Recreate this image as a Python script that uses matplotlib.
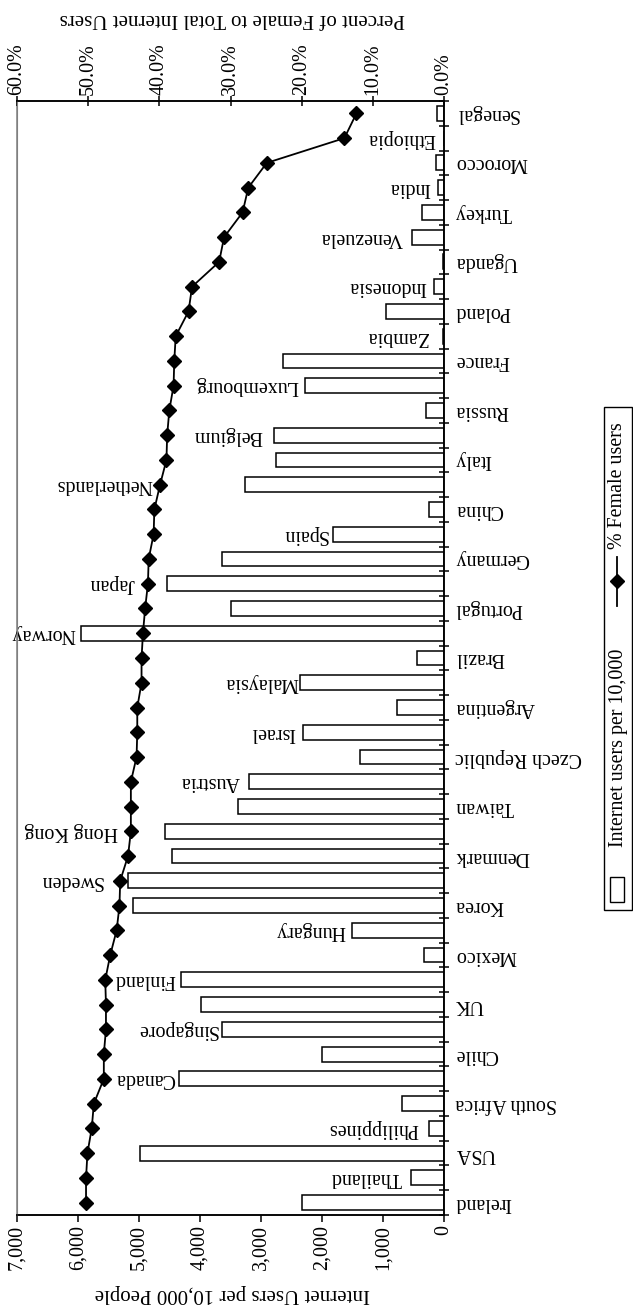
import matplotlib
matplotlib.use('Agg')
import matplotlib.pyplot as plt
import numpy as np
from matplotlib.patches import Rectangle
from matplotlib.lines import Line2D

plt.rcParams['font.family'] = ['Liberation Serif', 'DejaVu Serif']

# Categories listed from the bottom of the chart (Ireland) to the top (Senegal)
countries = ["Ireland", "Thailand", "USA", "Philippines", "South Africa", "Canada",
             "Chile", "Singapore", "UK", "Finland", "Mexico", "Hungary", "Korea",
             "Sweden", "Denmark", "Hong Kong", "Taiwan", "Austria", "Czech Republic",
             "Israel", "Argentina", "Malaysia", "Brazil", "Norway", "Portugal", "Japan",
             "Germany", "Spain", "China", "Netherlands", "Italy", "Belgium", "Russia",
             "Luxembourg", "France", "Zambia", "Poland", "Indonesia", "Uganda",
             "Venezuela", "Turkey", "India", "Morocco", "Ethiopia", "Senegal"]

users_per_10000 = [2328, 541, 4984, 240, 694, 4344,
                   2000, 3644, 3984, 4316, 322, 1508, 5104,
                   5175, 4464, 4574, 3382, 3197, 1377,
                   2311, 765, 2361, 437, 5951, 3497, 4546,
                   3644, 1820, 240, 3262, 2754, 2787, 295,
                   2279, 2644, 15, 956, 164, 11,
                   519, 366, 93, 131, 5, 110]

female_pct = [50.3, 50.3, 50.1, 49.5, 49.2, 47.8,
              47.8, 47.5, 47.5, 47.6, 46.9, 46.0, 45.6,
              45.5, 44.4, 44.0, 44.0, 44.0, 43.2,
              43.1, 43.1, 42.5, 42.5, 42.3, 42.0, 41.6,
              41.5, 40.8, 40.7, 39.9, 39.0, 38.9, 38.6,
              38.0, 37.9, 37.7, 35.9, 35.4, 31.6,
              30.9, 28.3, 27.5, 24.9, 14.0, 12.3]

bar_ticks = [0, 1000, 2000, 3000, 4000, 5000, 6000, 7000]
pct_ticks = [0, 10, 20, 30, 40, 50, 60]

# Layout: where the inner (staggered) category labels sit, in bar-axis units
label_pos = {"Thailand": 689, "Philippines": 426, "Canada": 4410, "Singapore": 3705,
             "Finland": 4410, "Hungary": 1623, "Sweden": 5590, "Hong Kong": 5344,
             "Austria": 3344, "Israel": 2443, "Malaysia": 2393, "Norway": 6049,
             "Japan": 5066, "Spain": 1900, "Netherlands": 4787, "Belgium": 2984,
             "Luxembourg": 2393, "Zambia": 262, "Indonesia": 284, "Venezuela": 672,
             "India": 230, "Ethiopia": 148}

W, H = 633, 1309
fig = plt.figure(figsize=(W / 100, H / 100), dpi=100)

def fx(x):
    return x / W

def fy(y):
    return 1 - y / H

L, R, T, B = 17, 444, 101, 1215
ax = fig.add_axes([fx(L), fy(B), fx(R) - fx(L), fy(T) - fy(B)])

FS = 14.4
FS_TITLE = 15
y = np.arange(len(countries))
ax.barh(y, users_per_10000, height=0.6, color='white', edgecolor='black', linewidth=1.1, zorder=2)
ax.set_xlim(7000, 0)
ax.set_ylim(-0.5, len(countries) - 0.5)

ax.set_xticks(bar_ticks)
ax.set_xticklabels([f"{v:,}" for v in bar_ticks], rotation=90, fontsize=FS)
ax.tick_params(axis='x', direction='out', length=5, width=1.1, pad=2)

ax.yaxis.tick_right()
ax.set_yticks(np.arange(-0.5, len(countries), 1.0))
ax.set_yticklabels([])
ax.tick_params(axis='y', direction='inout', length=7, width=1.1)

for s in ['top', 'right', 'bottom']:
    ax.spines[s].set_linewidth(1.1)
    ax.spines[s].set_color('black')
ax.spines['left'].set_color('#808080')
ax.spines['left'].set_linewidth(1.1)

ax2 = ax.twiny()
ax2.plot(female_pct, y, color='black', linewidth=1.3, marker='D', markersize=7.5,
         markerfacecolor='black', markeredgecolor='black', zorder=5)
ax2.set_xlim(60, 0)
ax2.set_xticks(pct_ticks)
ax2.set_xticklabels([f"{v:.1f}%" for v in pct_ticks], rotation=90, fontsize=FS)
ax2.tick_params(axis='x', direction='inout', length=7, width=1.1, pad=1)
ax2.spines['left'].set_color('#808080')
for s in ['top', 'right', 'bottom']:
    ax2.spines[s].set_linewidth(1.1)

# Category labels
trans_out = ax.get_yaxis_transform()
for i, name in enumerate(countries):
    if name in label_pos:
        ax.text(label_pos[name], i, name, rotation=180, ha='right', va='center',
                fontsize=FS, zorder=3)
    else:
        ax.text(1 + 11 / (R - L), i, name, rotation=180, ha='left', va='center',
                fontsize=FS, transform=trans_out, clip_on=False)

# Axis titles
fig.text(fx(232), fy(1294), "Internet Users per 10,000 People", rotation=180,
         ha='center', va='center', fontsize=FS_TITLE)
fig.text(fx(232), fy(19), "Percent of Female to Total Internet Users", rotation=180,
         ha='center', va='center', fontsize=FS_TITLE)

# Legend (rotated)
fig.add_artist(Rectangle((fx(604), fy(910)), fx(632) - fx(604), fy(407) - fy(910),
                         transform=fig.transFigure, facecolor='white', edgecolor='black',
                         linewidth=1.0))
fig.add_artist(Rectangle((fx(610), fy(902)), fx(624) - fx(610), fy(877) - fy(902),
                         transform=fig.transFigure, facecolor='white', edgecolor='black',
                         linewidth=1.0))
fig.text(fx(618), fy(748), "Internet users per 10,000", rotation=90,
         ha='center', va='center', fontsize=FS)
fig.add_artist(Line2D([fx(617), fx(617)], [fy(557), fy(606)], transform=fig.transFigure,
                      color='black', linewidth=1.3))
fig.add_artist(Line2D([fx(617)], [fy(581)], transform=fig.transFigure, color='black',
                      marker='D', markersize=7.5, linestyle='none'))
fig.text(fx(618), fy(486), "% Female users", rotation=90,
         ha='center', va='center', fontsize=FS)

fig.savefig('out.png', dpi=100)
